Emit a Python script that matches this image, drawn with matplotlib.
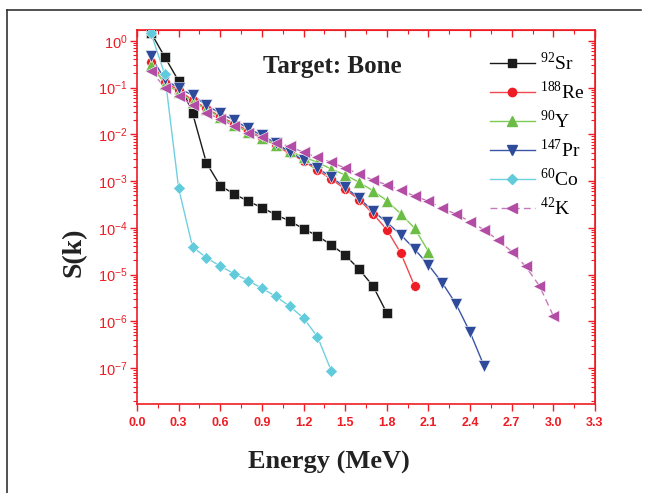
import math
import matplotlib
matplotlib.use("Agg")
import matplotlib.pyplot as plt
from matplotlib.ticker import LogLocator, MultipleLocator, FuncFormatter, NullFormatter
from matplotlib.lines import Line2D

# ---- data ----
energy_sr = [0.1, 0.2, 0.3, 0.4, 0.5, 0.6, 0.7, 0.8, 0.9, 1.0, 1.1, 1.2, 1.3, 1.4, 1.5, 1.6, 1.7, 1.8]
s_sr = [1.5, 0.45, 0.138, 0.0285, 2.45e-3, 7.9e-4, 5.3e-4, 3.7e-4, 2.7e-4, 1.9e-4, 1.4e-4,
        9.5e-5, 6.7e-5, 4.3e-5, 2.6e-5, 1.3e-5, 5.7e-6, 1.5e-6]

energy_re = [0.1, 0.2, 0.3, 0.4, 0.5, 0.6, 0.7, 0.8, 0.9, 1.0, 1.1, 1.2, 1.3, 1.4, 1.5, 1.6, 1.7, 1.8, 1.9, 2.0]
s_re = [0.36, 0.13, 0.088, 0.054, 0.036, 0.024, 0.017, 0.012, 0.0085, 0.0057, 0.0039, 0.0027,
        0.0017, 0.0011, 6.7e-4, 4.0e-4, 2.0e-4, 9.1e-5, 2.9e-5, 5.7e-6]

energy_y = [0.1, 0.2, 0.3, 0.4, 0.5, 0.6, 0.7, 0.8, 0.9, 1.0, 1.1, 1.2, 1.3, 1.4, 1.5, 1.6, 1.7, 1.8, 1.9, 2.0, 2.1]
s_y = [0.31, 0.12, 0.08, 0.05, 0.034, 0.023, 0.016, 0.011, 0.0085, 0.006, 0.0043, 0.0033,
       0.0025, 0.0018, 0.00135, 9.4e-4, 6.2e-4, 3.8e-4, 2.0e-4, 9.8e-5, 3.1e-5]

energy_pr = [0.1, 0.2, 0.3, 0.4, 0.5, 0.6, 0.7, 0.8, 0.9, 1.0, 1.1, 1.2, 1.3, 1.4, 1.5, 1.6, 1.7,
             1.8, 1.9, 2.0, 2.1, 2.2, 2.3, 2.4, 2.5]
s_pr = [0.47, 0.15, 0.096, 0.069, 0.042, 0.028, 0.020, 0.0134, 0.0095, 0.0065, 0.0042, 0.0028,
        0.0019, 0.0012, 7.4e-4, 4.3e-4, 2.3e-4, 1.3e-4, 7.1e-5, 3.5e-5, 1.6e-5, 6.6e-6, 2.3e-6,
        5.8e-7, 1.12e-7]

energy_co = [0.1, 0.2, 0.3, 0.4, 0.5, 0.6, 0.7, 0.8, 0.9, 1.0, 1.1, 1.2, 1.3, 1.4]
s_co = [1.5, 0.19, 7.0e-4, 3.9e-5, 2.3e-5, 1.5e-5, 1.05e-5, 7.4e-6, 5.1e-6, 3.4e-6, 2.1e-6,
        1.17e-6, 4.7e-7, 8.7e-8]

energy_k = [0.1, 0.2, 0.3, 0.4, 0.5, 0.6, 0.7, 0.8, 0.9, 1.0, 1.1, 1.2, 1.3, 1.4, 1.5, 1.6, 1.7,
            1.8, 1.9, 2.0, 2.1, 2.2, 2.3, 2.4, 2.5, 2.6, 2.7, 2.8, 2.9, 3.0]
s_k = [0.23, 0.10, 0.066, 0.042, 0.029, 0.021, 0.015, 0.0107, 0.0087, 0.0066, 0.0055, 0.0041,
       0.0032, 0.0025, 0.0019, 0.0014, 0.00105, 8.3e-4, 6.3e-4, 4.8e-4, 3.7e-4, 2.6e-4, 1.95e-4,
       1.36e-4, 9.1e-5, 5.5e-5, 3.1e-5, 1.5e-5, 5.7e-6, 1.3e-6]

x_ticks = [0.0, 0.3, 0.6, 0.9, 1.2, 1.5, 1.8, 2.1, 2.4, 2.7, 3.0, 3.3]

series = [
    (energy_sr, s_sr, r"$^{92}$Sr", "s", "#1a1a1a", "#1a1a1a", "-"),
    (energy_re, s_re, r"$^{188}$Re", "o", "#ee1c24", "#f0484e", "-"),
    (energy_y, s_y, r"$^{90}$Y", "^", "#6cbd45", "#7ccb55", "-"),
    (energy_pr, s_pr, r"$^{147}$Pr", "v", "#2e4b9b", "#3a56a6", "-"),
    (energy_co, s_co, r"$^{60}$Co", "D", "#62cbdb", "#6fd0df", "-"),
    (energy_k, s_k, r"$^{42}$K", "<", "#b24ca4", "#c57bbb", (0, (5, 3))),
]

plt.rcParams["mathtext.fontset"] = "custom"
plt.rcParams["mathtext.rm"] = "Liberation Serif"

fig = plt.figure(figsize=(6.48, 4.93), dpi=100)
ax = fig.add_axes([137 / 648, 1 - 404 / 493, 458 / 648, 374 / 493])

msizes = {"s": 6.5, "o": 7, "^": 8, "v": 8, "D": 6, "<": 8}
lsizes = {"s": 5.5, "o": 6, "^": 6.5, "v": 6.5, "D": 5.5, "<": 6.5}
handles = []
for xs, ys, lab, mk, mc, lc, ls in series:
    ax.plot(xs, ys, color=lc, lw=1.0, ls=ls, zorder=2)
    ax.plot(xs, ys, ls="none", marker=mk, ms=msizes[mk], mfc=mc, mec="white",
            mew=0.4, zorder=3)
    handles.append(Line2D([0], [0], color=lc, lw=1.0, ls=ls, marker=mk,
                          ms=lsizes[mk], mfc=mc, mec=mc, label=lab))

ax.set_yscale("log")
ax.set_xlim(0, 3.3)
ax.set_ylim(1.7e-8, 1.7)

red = "#ee1c24"
for sp in ax.spines.values():
    sp.set_color(red)
    sp.set_linewidth(1.2)

ax.set_xticks(x_ticks)
ax.xaxis.set_minor_locator(MultipleLocator(0.15))
ax.xaxis.set_major_formatter(FuncFormatter(lambda v, p: f"{v:.1f}"))
ax.yaxis.set_major_locator(LogLocator(base=10, numticks=20))
ax.yaxis.set_minor_locator(LogLocator(base=10, subs=range(2, 10), numticks=20))
ax.yaxis.set_minor_formatter(NullFormatter())
ax.yaxis.set_major_formatter(FuncFormatter(
    lambda v, p: r"$\mathregular{10^{%d}}$" % round(math.log10(v))))

ax.tick_params(axis="both", which="both", colors=red, direction="out")
ax.tick_params(axis="both", which="major", length=5, width=1.0)
ax.tick_params(axis="both", which="minor", length=3, width=0.8)
ax.tick_params(axis="x", labelsize=9, pad=4)
ax.tick_params(axis="y", labelsize=10.5, pad=2)
for lbl in ax.get_xticklabels():
    lbl.set_fontweight("bold")
    lbl.set_family("Liberation Sans")
for lbl in ax.get_yticklabels():
    lbl.set_family("Liberation Sans")

# mirrored inward ticks on top/right
axt = ax.secondary_xaxis("top")
axt.set_xticks(x_ticks)
axt.xaxis.set_minor_locator(MultipleLocator(0.15))
axt.tick_params(axis="x", which="both", direction="in", colors=red, labeltop=False)
axt.tick_params(which="major", length=5, width=1.0)
axt.tick_params(which="minor", length=3, width=0.8)
axt.spines["top"].set_color(red)
axr = ax.secondary_yaxis("right")
axr.yaxis.set_major_locator(LogLocator(base=10, numticks=20))
axr.yaxis.set_minor_locator(LogLocator(base=10, subs=range(2, 10), numticks=20))
axr.tick_params(axis="y", which="both", direction="in", colors=red, labelright=False)
axr.tick_params(which="major", length=5, width=1.0)
axr.tick_params(which="minor", length=3, width=0.8)
axr.spines["right"].set_color(red)

fig.text(329 / 648, 1 - 462 / 493, "Energy (MeV)", ha="center", va="center",
         fontsize=19, fontweight="bold", family="Liberation Serif", color="#222222")
fig.text(74 / 648, 1 - 252 / 493, "S(k)", ha="center", va="center", rotation=90,
         fontsize=20, fontweight="bold", family="Liberation Serif", color="#222222")

fig.text(332 / 648, 1 - 67 / 493, "Target: Bone", ha="center", va="center",
         fontsize=18, fontweight="bold", family="Liberation Serif", color="#222222")

leg = ax.legend(handles=handles, loc="upper left", bbox_to_anchor=(0.737, 0.985),
                frameon=False, prop={"family": "Liberation Serif", "size": 14},
                handlelength=2.3, handletextpad=0.25, labelspacing=0.33, borderpad=0.3)

# outer border lines
fig.add_artist(Line2D([7 / 648, 641 / 648], [1 - 10 / 493, 1 - 10 / 493],
                      transform=fig.transFigure, color="#333333", lw=1.2))
fig.add_artist(Line2D([7 / 648, 7 / 648], [1 - 10 / 493, 0],
                      transform=fig.transFigure, color="#333333", lw=1.2))

fig.savefig("out.png", dpi=100)
